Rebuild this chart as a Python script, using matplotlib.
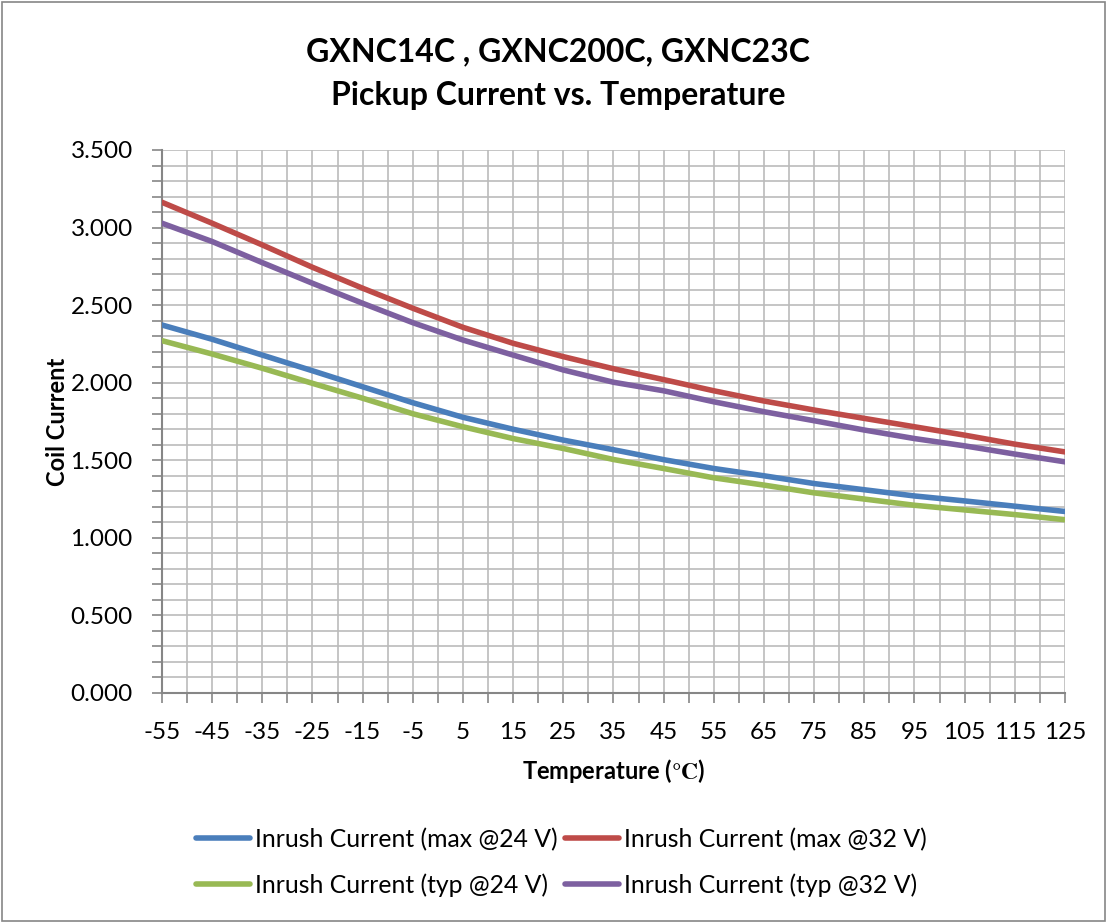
import matplotlib
matplotlib.use("Agg")
import matplotlib.pyplot as plt
import numpy as np
from matplotlib.patches import Rectangle

temps = [-55, -45, -35, -25, -15, -5, 5, 15, 25, 35, 45, 55, 65, 75, 85, 95, 105, 115, 125]
max24 = [2.372, 2.280, 2.178, 2.077, 1.974, 1.871, 1.777, 1.700, 1.630, 1.568, 1.504, 1.447, 1.400, 1.350, 1.310, 1.270, 1.238, 1.204, 1.170]
max32 = [3.163, 3.028, 2.888, 2.744, 2.609, 2.480, 2.357, 2.254, 2.168, 2.090, 2.020, 1.948, 1.882, 1.824, 1.770, 1.716, 1.662, 1.604, 1.554]
typ24 = [2.271, 2.185, 2.093, 1.996, 1.900, 1.800, 1.716, 1.640, 1.576, 1.505, 1.447, 1.387, 1.340, 1.290, 1.250, 1.210, 1.180, 1.150, 1.117]
typ32 = [3.028, 2.910, 2.774, 2.641, 2.512, 2.387, 2.275, 2.178, 2.082, 2.003, 1.948, 1.877, 1.813, 1.755, 1.695, 1.640, 1.593, 1.540, 1.490]
labels = ["Inrush Current (max @24 V)", "Inrush Current (max @32 V)",
          "Inrush Current (typ @24 V)", "Inrush Current (typ @32 V)"]
colors = ["#4A7EBB", "#BE4B48", "#98B954", "#7D60A0"]

plt.rcParams['font.family'] = ['Lato', 'DejaVu Sans']
plt.rcParams['axes.unicode_minus'] = False
plt.rcParams['mathtext.fontset'] = 'stix'

fig = plt.figure(figsize=(11.07, 9.23), dpi=100)
fig.patches.append(Rectangle((0.002, 0.002), 0.996, 0.996, transform=fig.transFigure,
                             fill=False, edgecolor="#868686", linewidth=1.2))
ax = fig.add_axes([0.1463, 0.2492, 0.9620 - 0.1463, 0.8375 - 0.2492])

series = [max24, max32, typ24, typ32]
handles = []
for s, lab, c in zip(series, labels, colors):
    h, = ax.plot(temps, s, color=c, linewidth=4.0, solid_capstyle='round', label=lab, zorder=3)
    handles.append(h)

ax.set_xlim(-55, 125)
ax.set_ylim(0, 3.5)
ax.set_xticks(temps)
ax.set_xticks(np.arange(-55, 126, 5), minor=True)
ax.set_yticks(np.arange(0, 3.51, 0.5))
ax.set_yticks(np.arange(0, 3.51, 0.1), minor=True)
ax.set_yticklabels([f"{v:.3f}" for v in np.arange(0, 3.51, 0.5)])
ax.grid(True, which='both', color="#BBBBBB", linewidth=1.2, zorder=0)
ax.set_axisbelow(True)
for sp in ['top', 'right']:
    ax.spines[sp].set_visible(False)
for sp in ['left', 'bottom']:
    ax.spines[sp].set_color("#868686")
    ax.spines[sp].set_linewidth(1.5)
ax.tick_params(axis='both', which='both', direction='out', length=7, width=1.2, color="#868686",
               labelsize=17.5, labelcolor='black')
ax.tick_params(axis='x', pad=14)
ax.tick_params(axis='y', pad=14)

ax.set_xlabel(r"Temperature ($\mathbf{\degree C}$)", fontsize=17, fontweight='bold', labelpad=10)
ax.set_ylabel("Coil Current", fontsize=17, fontweight='bold', labelpad=1)

fig.text(0.504, 0.944, "GXNC14C , GXNC200C, GXNC23C", ha='center', va='center',
         fontsize=23, fontweight='bold')
fig.text(0.504, 0.896, "Pickup Current vs. Temperature", ha='center', va='center',
         fontsize=23, fontweight='bold')

order = [0, 2, 1, 3]
fig.legend(handles=[handles[i] for i in order], loc='center', bbox_to_anchor=(0.507, 0.066), ncol=2,
           frameon=False, fontsize=17.8, handlelength=2.2, handletextpad=0.2,
           columnspacing=0.3, labelspacing=0.9)

fig.savefig("out.png", dpi=100)
